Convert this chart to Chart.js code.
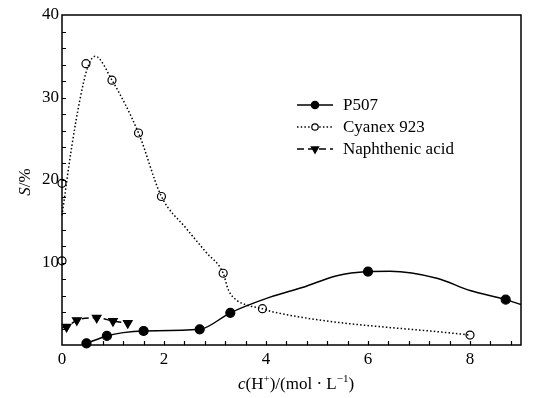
<!DOCTYPE html>
<html>
<head>
<meta charset="utf-8">
<script src="https://cdn.jsdelivr.net/npm/chart.js@4/dist/chart.umd.min.js"></script>
<style>
  body { margin: 0; background: #fff; }
  #wrap { width: 557px; height: 398px; }
</style>
</head>
<body>
<div id="wrap"><canvas id="myChart" width="557" height="398"></canvas></div>
<script>
// measured points
const p507X = [0.48, 0.88, 1.6, 2.7, 3.3, 6.0, 8.7];
const p507Y = [0.2, 1.1, 1.7, 1.9, 3.9, 8.9, 5.5];
// fitted curve as drawn in the figure
const p507CurveX = [0.48, 0.88, 1.2, 1.6, 2.7, 3.3, 4.08, 4.73, 5.39, 6.0, 6.43, 7.35, 8.0, 8.7, 9.0];
const p507CurveY = [0.2, 1.1, 1.5, 1.7, 1.9, 3.9, 5.8, 7.0, 8.4, 8.9, 8.95, 8.1, 6.6, 5.5, 4.9];

const cyanexX = [0, 0, 0.47, 0.98, 1.5, 1.95, 3.16, 3.93, 8.0];
const cyanexY = [10.2, 19.6, 34.1, 32.1, 25.7, 18.0, 8.7, 4.4, 1.2];
const cyanexCurveX = [0, 0.19, 0.35, 0.5, 0.65, 0.98, 1.5, 1.95, 2.44, 2.83, 3.16, 3.26, 3.42, 3.62, 3.93, 4.14, 8.0];
const cyanexCurveY = [15.7, 24, 29.7, 33.6, 35.0, 32.1, 25.7, 18.0, 14.1, 11.2, 8.7, 6.7, 5.45, 4.85, 4.4, 4.0, 1.2];

const naphX = [0.09, 0.29, 0.68, 1.0, 1.29];
const naphY = [2.2, 3.0, 3.3, 2.9, 2.65];
const naphCurveX = [0, 0.09, 0.29, 0.68, 1.0, 1.29];
const naphCurveY = [2.1, 2.2, 3.0, 3.3, 2.9, 2.65];

const seriesNames = ['P507', 'Cyanex 923', 'Naphthenic acid'];
const xLabelTicks = [0, 2, 4, 6, 8];
const yLabelTicks = [10, 20, 30, 40];

const pts = (xs, ys) => xs.map((x, i) => ({ x: x, y: ys[i] }));
const FONT = '"Liberation Serif", "Times New Roman", serif';

const lineStyles = [
  { dash: [], marker: 'circle', fill: '#000', radius: 4.5, rotation: 0 },
  { dash: [1.5, 2.2], marker: 'circle', fill: '#fff', radius: 4, rotation: 0 },
  { dash: [7, 4], marker: 'triangle', fill: '#000', radius: 5, rotation: 180 }
];

const frame = {
  id: 'frame',
  afterDraw(chart) {
    const c = chart.ctx;
    const a = chart.chartArea;
    const xs = chart.scales.x, ys = chart.scales.y;
    c.save();
    c.strokeStyle = '#000';
    c.lineWidth = 1.5;
    c.strokeRect(a.left, a.top, a.right - a.left, a.bottom - a.top);
    // inward ticks
    c.lineWidth = 1.2;
    c.beginPath();
    for (let i = 1; i <= 22; i++) {
      const px = Math.round(xs.getPixelForValue(i * 0.4)) + 0.5;
      c.moveTo(px, a.bottom);
      c.lineTo(px, a.bottom - 4);
    }
    for (let i = 1; i <= 19; i++) {
      const py = Math.round(ys.getPixelForValue(i * 2)) + 0.5;
      c.moveTo(a.left, py);
      c.lineTo(a.left + 4, py);
    }
    c.stroke();

    // axis titles
    c.fillStyle = '#000';
    c.textBaseline = 'alphabetic';
    const xParts = [
      ['italic 17px ' + FONT, 'c', 0],
      ['17px ' + FONT, '(H', 0],
      ['11px ' + FONT, '+', -7],
      ['17px ' + FONT, ')/(mol \u00b7 L', 0],
      ['11px ' + FONT, '\u22121', -7],
      ['17px ' + FONT, ')', 0]
    ];
    let w = 0;
    xParts.forEach(p => { c.font = p[0]; w += c.measureText(p[1]).width; });
    let x0 = 296 - w / 2;
    xParts.forEach(p => {
      c.font = p[0];
      c.fillText(p[1], x0, 389 + p[2]);
      x0 += c.measureText(p[1]).width;
    });

    c.translate(30, 182);
    c.rotate(-Math.PI / 2);
    const yParts = [['italic 17px ' + FONT, 'S'], ['17px ' + FONT, '/%']];
    w = 0;
    yParts.forEach(p => { c.font = p[0]; w += c.measureText(p[1]).width; });
    x0 = -w / 2;
    yParts.forEach(p => {
      c.font = p[0];
      c.fillText(p[1], x0, 0);
      x0 += c.measureText(p[1]).width;
    });
    c.restore();

    // legend
    c.save();
    const lx = 297, lw = 36;
    const rows = [105, 127, 149];
    seriesNames.forEach((name, i) => {
      const st = lineStyles[i];
      const y = rows[i];
      c.strokeStyle = '#000';
      c.lineWidth = 1.5;
      c.setLineDash(st.dash);
      c.beginPath();
      c.moveTo(lx, y);
      c.lineTo(lx + lw, y);
      c.stroke();
      c.setLineDash([]);
      c.fillStyle = st.fill;
      c.lineWidth = 1.2;
      Chart.helpers.drawPoint(c, {
        pointStyle: st.marker, radius: st.radius - 0.8, rotation: st.rotation, borderWidth: 1.2
      }, lx + lw / 2, y);
      c.fillStyle = '#000';
      c.font = '17px ' + FONT;
      c.textBaseline = 'middle';
      c.fillText(name, 343, y + 1);
    });
    c.restore();
  }
};

const curveSets = [
  [p507CurveX, p507CurveY],
  [cyanexCurveX, cyanexCurveY],
  [naphCurveX, naphCurveY]
];
const markerSets = [
  [p507X, p507Y],
  [cyanexX, cyanexY],
  [naphX, naphY]
];

const datasets = [];
curveSets.forEach((s, i) => {
  datasets.push({
    label: seriesNames[i] + ' curve',
    data: pts(s[0], s[1]),
    showLine: true,
    borderColor: '#000',
    borderWidth: 1.5,
    borderDash: lineStyles[i].dash,
    pointRadius: 0,
    cubicInterpolationMode: 'monotone'
  });
});
markerSets.forEach((s, i) => {
  const st = lineStyles[i];
  datasets.push({
    label: seriesNames[i],
    data: pts(s[0], s[1]),
    showLine: false,
    pointStyle: st.marker,
    pointRadius: st.radius,
    pointRotation: st.rotation,
    pointBackgroundColor: st.fill,
    pointBorderColor: '#000',
    pointBorderWidth: 1.2
  });
});

const ctx = document.getElementById('myChart');
new Chart(ctx, {
  type: 'scatter',
  data: { datasets: datasets },
  options: {
    responsive: false,
    animation: false,
    clip: false,
    layout: { padding: { top: 15, right: 36, left: 0, bottom: 0 } },
    plugins: { legend: { display: false }, tooltip: { enabled: false } },
    scales: {
      x: {
        type: 'linear',
        min: 0,
        max: 9,
        afterFit: s => { s.height = 53; },
        afterBuildTicks: s => { s.ticks = xLabelTicks.map(v => ({ value: v })); },
        grid: { display: false, drawTicks: false },
        border: { display: false },
        ticks: {
          color: '#000',
          padding: 4,
          maxRotation: 0,
          font: { family: FONT, size: 17 }
        }
      },
      y: {
        type: 'linear',
        min: 0,
        max: 40,
        afterFit: s => { s.width = 62; },
        afterBuildTicks: s => { s.ticks = yLabelTicks.map(v => ({ value: v })); },
        grid: { display: false, drawTicks: false },
        border: { display: false },
        ticks: {
          color: '#000',
          padding: 3,
          font: { family: FONT, size: 17 }
        }
      }
    }
  },
  plugins: [frame]
});
</script>
</body>
</html>
